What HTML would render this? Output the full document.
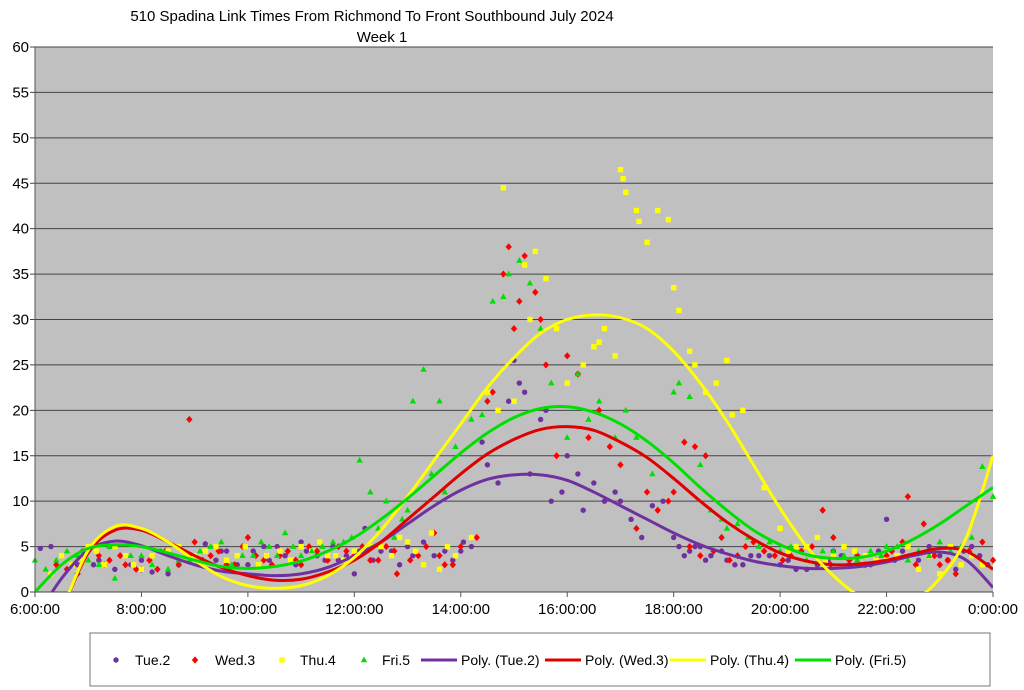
<!DOCTYPE html>
<html><head><meta charset="utf-8"><style>
body{margin:0;background:#fff;}
svg{display:block;font-family:"Liberation Sans",sans-serif;}
</style></head><body>
<svg id="chart" width="1024" height="690" viewBox="0 0 1024 690">
<text x="372" y="21" text-anchor="middle" font-size="15">510 Spadina Link Times From Richmond To Front Southbound July 2024</text>
<text x="382" y="42" text-anchor="middle" font-size="15">Week 1</text>
<rect x="35" y="47" width="958" height="545" fill="#c0c0c0"/>
<g id="grid"></g><g id="marks"></g><g id="curves"></g><g id="axes"></g>
<g>
<rect x="90" y="633" width="900" height="53" fill="#fff" stroke="#777"/>
<g id="legend"></g>
</g>
</svg>
<script>
const yTicks=[0,5,10,15,20,25,30,35,40,45,50,55,60];
const xTickLabels=["6:00:00","8:00:00","10:00:00","12:00:00","14:00:00","16:00:00","18:00:00","20:00:00","22:00:00","0:00:00"];
const seriesNames=["Tue.2","Wed.3","Thu.4","Fri.5"];
const tueTimes=[0.1,0.3,0.5,0.8,1.2,1.5,1.8,2.2,2.5,2.9,3.2,3.6,4,4.3,4.7,5,5.3,5.7,6,6.2,6.5,7,7.5,8,8.2,8.4,8.5,8.7,8.9,9,9.1,9.2,9.3,9.5,9.6,9.7,9.9,10,10.2,10.3,10.5,10.7,10.9,11,11.2,11.4,11.6,11.8,12,12.1,12.3,12.5,12.7,13,13.3,13.6,14,14.3,14.7,15,15.3,15.7,16,16.3,16.6,17,17.3,17.6,17.9,
0.9,1.1,1.4,1.7,2.0,2.35,2.7,3.0,3.4,3.5,3.8,4.1,4.4,4.55,4.9,5.1,5.45,5.6,5.85,6.1,6.35,6.7,6.85,7.1,7.3,7.7,7.85,8.05,12.2,12.4,12.6,12.9,13.15,13.45,13.8,14.15,14.5,14.9,15.15,15.5,15.85,16.15,16.8,17.15,17.45,17.75];
const tueValues=[4.8,5,4,3,3.5,2.5,3,2.2,2,4,5.3,4.5,3,5,4,5.5,4,3.5,2,7,4.5,5,4,4.5,5,16.5,14,12,21,25.5,23,22,13,19,20,10,11,15,13,9,12,10,11,10,8,6,9.5,10,6,5,4.5,5,4,3.5,3,4,3,2.5,3,4.5,3,3,8,4.5,3.5,4,2.5,5,3,
4.5,3,5,4,3.5,4.5,3,4,3.5,4.5,3,4.5,3.5,5,3,4.5,3.5,5,4,4.5,3.5,4.5,3,4,5.5,4.5,3.5,5.5,4,5,3.5,4.5,3,4,4,3.5,2.5,3.5,4,3,4.5,3.5,5,3.5,4.5,4];
const wedTimes=[0.4,0.6,0.8,1.2,1.4,1.7,2,2.3,2.9,3,3.3,3.6,4,4.3,4.6,5,5.3,5.7,6,6.3,6.6,6.8,7.2,7.5,7.7,8,8.3,8.5,8.6,8.8,8.9,9,9.1,9.2,9.4,9.5,9.6,9.8,10,10.2,10.4,10.6,10.8,11,11.3,11.5,11.7,11.9,12,12.2,12.4,12.6,12.9,13.2,13.5,13.9,14.2,14.6,14.8,15,15.3,15.6,16,16.3,16.4,16.7,17,17.3,17.8,18,
1.0,1.3,1.6,1.9,2.15,2.45,2.7,3.15,3.45,3.75,3.9,4.15,4.45,4.75,4.9,5.15,5.5,5.85,6.15,6.45,6.75,7.05,7.35,7.6,7.85,12.3,12.5,12.75,13.05,13.35,13.7,14.05,14.4,14.95,15.45,15.8,16.1,16.55,16.9,17.15,17.55];
const wedValues=[3,2.5,2,4,3.5,3,2.5,2.5,19,5.5,4,3,6,3.5,4,3,4.5,5,4,3.5,5,2,4,6.5,3,5,6,21,22,35,38,29,32,37,33,30,25,15,26,24,17,20,16,14,7,11,9,10,11,16.5,16,15,6,4,5.5,4,4,5,9,6,3.5,3,4,5.5,10.5,7.5,3,2,5.5,3.5,
4.5,3,4,2.5,3.5,4.5,3,3.5,4.5,3,5,4,3,4.5,3.5,5,3.5,4.5,5,3.5,4.5,3.5,5,4,3,5,4,4.5,3.5,5,4.5,3.5,4.5,3,4,3.5,4.5,3,4,3.5,4.5];
const thuTimes=[0.3,0.7,1,1.3,1.7,2,2.5,3,3.4,3.8,4.2,4.6,5,5.5,5.8,6.3,6.7,7,7.3,7.6,7.9,8.2,8.5,8.7,8.8,9,9.2,9.3,9.4,9.6,9.8,10,10.3,10.5,10.6,10.7,10.9,11,11.05,11.1,11.3,11.35,11.5,11.7,11.9,12,12.1,12.3,12.4,12.6,12.8,13,13.1,13.3,13.7,14,14.3,14.7,15,15.4,15.8,16.2,16.6,17,17.4,17.8,
0.5,0.9,1.15,1.5,1.85,2.2,2.7,2.9,3.2,3.6,3.95,4.35,4.8,5.2,5.35,5.65,6.0,6.5,6.85,7.15,7.45,7.75,14.15,14.5,14.85,15.2,15.6,16.0,16.4,16.8,17.2,17.6];
const thuValues=[2,3,5,3,4,2.5,4.5,4,5,4,3,4.5,5,4,3.5,5,4,5.5,3,2.5,4,6,22,20,44.5,21,36,30,37.5,34.5,29,23,25,27,27.5,29,26,46.5,45.5,44,42,40.8,38.5,42,41,33.5,31,26.5,25,22,23,25.5,19.5,20,11.5,7,5,6,4,4.5,3.5,4,2.5,2,3,3,
4,3.5,4.5,5,3,4,5,3.5,4.5,3.5,5,4,3.5,4.5,5.5,4,4.5,5,6,4.5,6.5,5,4.5,5,3.5,5,4,3.5,5,4,5,4];
const friTimes=[0,0.4,0.8,1.2,1.5,1.8,2.2,2.5,2.9,3.3,3.7,4.1,4.4,4.7,5,5.4,5.8,6.1,6.3,6.6,6.9,7.1,7.3,7.6,7.9,8.2,8.4,8.6,8.8,8.9,9.1,9.3,9.5,9.7,10,10.2,10.4,10.6,10.9,11.1,11.3,11.6,12,12.1,12.3,12.5,12.9,13.2,13.6,14.2,14.8,15.2,15.7,16,16.4,16.8,17.2,17.4,17.8,18,
0.2,0.6,1.0,1.4,2.0,2.35,2.7,3.1,3.5,3.9,4.25,4.55,4.85,5.2,5.6,5.95,6.45,6.75,7.0,7.45,7.7,12.7,13.0,13.4,13.8,14.0,14.5,15.0,15.45,15.9,16.2,16.6,17.0,17.6];
const friValues=[3.5,3.5,4,3,1.5,4,3,2.5,3.5,5,3,4,5,6.5,4,5,5.5,14.5,11,10,8,21,24.5,21,16,19,19.5,32,32.5,35,36.5,34,29,23,17,24,19,21,17,20,17,13,22,23,21.5,14,8,7.5,5,5,4.5,4,4.5,5,3.5,4,4.5,5,13.8,10.5,
2.5,4.5,3.5,5,4,4.5,3.5,4.5,5.5,4,5.5,4,5,4.5,5.5,6,7,6,9,13,11,9,7,6,5.5,4.5,3.5,4.5,3.5,4,5,4.5,5.5,6];
const trendTimes=[0,0.5,1,1.5,2,2.5,3,3.5,4,4.5,5,5.5,6,6.5,7,7.5,8,8.5,9,9.5,10,10.5,11,11.5,12,12.5,13,13.5,14,14.5,15,15.5,16,16.5,17,17.5,18];
const tueTrend=[-3,1.5,4.6,5.6,5.1,4,3,2.3,2,1.8,2,2.7,4,5.5,7.5,9.5,11.2,12.4,12.9,12.9,12.3,11,9.5,8,6.5,5.2,4.2,3.4,2.9,2.6,2.6,2.8,3.3,4,4.4,3.5,0.5];
const wedTrend=[-8,-2,4.3,6.8,6.8,5.5,4,2.7,1.8,1.3,1.4,2.2,3.5,5.5,8,10.5,13,15.2,16.8,17.9,18.2,17.8,16.5,14.8,12.5,10,7.7,5.8,4.3,3.4,3,3.1,3.5,4.2,4.8,4.5,2.5];
const thuTrend=[-8,-2,4.6,7.2,7,5.5,3.5,1.7,0.7,0.4,0.7,1.8,3.8,6.8,10.5,14.5,18.5,22.5,25.8,28.5,30,30.5,30.2,29,26.5,23,18.8,14,9.2,5,1.8,-0.5,-1.5,-1,1.5,6,15];
const friTrend=[0,3,4.8,5.2,5,4.3,3.5,2.8,2.6,2.8,3.4,4.5,6,8,10.3,12.8,15.3,17.5,19.2,20.2,20.4,19.8,18.5,16.6,14.2,11.5,9,6.8,5.2,4.1,3.7,3.8,4.5,5.8,7.5,9.5,11.5];

const NS="http://www.w3.org/2000/svg";
const X0=35,X1=993,Y0=592,Y1=47;
const xs=h=>X0+h*(X1-X0)/18;
const ys=v=>Y0-v*(Y0-Y1)/60;
function mk(tag,attrs,parent){const e=document.createElementNS(NS,tag);for(const k in attrs)e.setAttribute(k,attrs[k]);parent.appendChild(e);return e;}
const grid=document.getElementById('grid'),axes=document.getElementById('axes'),marks=document.getElementById('marks'),curves=document.getElementById('curves'),legend=document.getElementById('legend');
yTicks.forEach(v=>{
  const l=mk('line',{x1:X0-5,x2:X1,y1:ys(v),y2:ys(v),stroke:'#444','stroke-width':1},grid);
  
  
  const t=mk('text',{x:29,y:ys(v)+5,'text-anchor':'end','font-size':15},axes);
  t.textContent=v;
  
  
});
mk('line',{x1:X0,x2:X0,y1:Y1,y2:Y0,stroke:'#555'},axes);
xTickLabels.forEach((s,i)=>{
  const x=xs(i*2);
  mk('line',{x1:x,x2:x,y1:Y0,y2:Y0+5,stroke:'#555'},axes);
  const t=mk('text',{x:x,y:614,'text-anchor':'middle','font-size':15},axes);
  t.textContent=s;
  
  
});
const colors=['#7030a0','#ff0000','#ffff00','#00e000'];
const lineColors=['#7030a0','#e00000','#ffff00','#00e000'];
function marker(kind,x,y,c,p){
  let e;
  if(kind==0)e=mk('circle',{cx:x,cy:y,r:2.7,fill:c},p);
  else if(kind==1)e=mk('path',{d:`M${x},${y-3.6}L${x+3.2},${y}L${x},${y+3.6}L${x-3.2},${y}Z`,fill:c},p);
  else if(kind==2)e=mk('rect',{x:x-2.7,y:y-2.7,width:5.4,height:5.4,fill:c},p);
  else e=mk('path',{d:`M${x},${y-3.5}L${x+3.2},${y+2.3}L${x-3.2},${y+2.3}Z`,fill:c},p);
  return e;
}
const T=[tueTimes,wedTimes,thuTimes,friTimes],V=[tueValues,wedValues,thuValues,friValues];
T.forEach((ts,k)=>{ts.forEach((h,i)=>{
  const m=marker(k,xs(h),ys(V[k][i]),colors[k],marks);
  
  
});});
const cp=mk('clipPath',{id:'clip'},curves);
mk('rect',{x:X0,y:Y1,width:X1-X0,height:Y0-Y1},cp);
function smooth(pts){
  let d=`M${pts[0][0]},${pts[0][1]}`;
  for(let i=0;i<pts.length-1;i++){
    const p0=pts[i-1]||pts[i],p1=pts[i],p2=pts[i+1],p3=pts[i+2]||p2;
    d+=`C${p1[0]+(p2[0]-p0[0])/6},${p1[1]+(p2[1]-p0[1])/6} ${p2[0]-(p3[0]-p1[0])/6},${p2[1]-(p3[1]-p1[1])/6} ${p2[0]},${p2[1]}`;
  }
  return d;
}
const trends=[tueTrend,wedTrend,thuTrend,friTrend];
trends.forEach((tr,k)=>{
  const pts=trendTimes.map((h,i)=>[xs(h),ys(tr[i])]);
  const p=mk('path',{d:smooth(pts),fill:'none',stroke:lineColors[k],'stroke-width':3,'clip-path':'url(#clip)'},curves);
  
  
});
const mx=[116,195,282,364],tx=[135,215,300,382];
seriesNames.forEach((n,k)=>{
  const m=marker(k,mx[k],660,colors[k],legend);
  
  
  const t=mk('text',{x:tx[k],y:665,'font-size':14},legend);
  t.textContent=n;
  
  
});
const lx=[421,545,670,795];
seriesNames.forEach((n,k)=>{
  mk('line',{x1:lx[k],x2:lx[k]+36,y1:660,y2:660,stroke:lineColors[k],'stroke-width':3},legend);
  const t=mk('text',{x:lx[k]+40,y:665,'font-size':14},legend);
  t.textContent='Poly. ('+n+')';
  
  
});
</script>
</body></html>
